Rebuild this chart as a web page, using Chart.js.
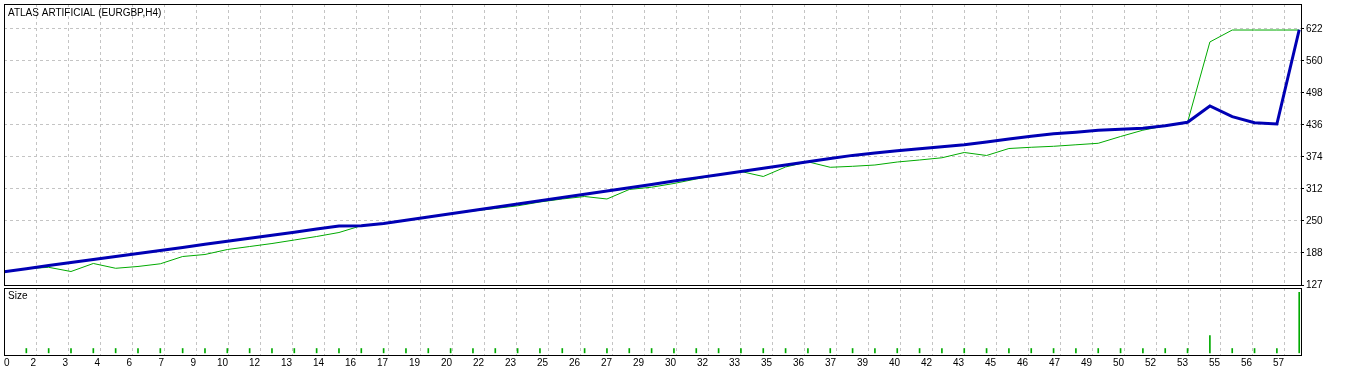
<!DOCTYPE html>
<html>
<head>
<meta charset="utf-8">
<script src="https://cdn.jsdelivr.net/npm/chart.js@4.4.1/dist/chart.umd.min.js"></script>
<style>
  html, body { margin: 0; padding: 0; background: #fff; }
  #wrap { position: relative; width: 1346px; height: 372px; overflow: hidden; }
  #mainBox { position: absolute; left: 0; top: 0; width: 1346px; height: 300px; }
  #sizeBox { position: absolute; left: 0; top: 287px; width: 1346px; height: 85px; }
</style>
</head>
<body>
<div id="wrap">
  <div id="mainBox"><canvas id="main"></canvas></div>
  <div id="sizeBox"><canvas id="size"></canvas></div>
</div>
<script>
// tester graph: balance (blue) + equity (green) per trade, lot size panel below
const TITLE = 'ATLAS ARTIFICIAL (EURGBP,H4)';

const trades = [0, 1, 2, 3, 4, 5, 6, 7, 8, 9, 10, 11, 12, 13, 14, 15, 16, 17, 18, 19,
  20, 21, 22, 23, 24, 25, 26, 27, 28, 29, 30, 31, 32, 33, 34, 35, 36, 37, 38, 39,
  40, 41, 42, 43, 44, 45, 46, 47, 48, 49, 50, 51, 52, 53, 54, 55, 56, 57, 58];

const balance = [152.7, 158.5, 164.5, 170.3, 176.3, 182.1, 188.1, 193.9, 199.7, 205.7,
  211.5, 217.3, 223.3, 229.1, 235.1, 241.1, 241.7, 246.1, 252.3, 258.5,
  264.9, 271.1, 277.2, 283.6, 289.8, 296.2, 302.4, 308.6, 314.9, 321.1,
  327.9, 334.1, 340.3, 346.5, 352.8, 359.0, 365.2, 371.4, 377.6, 382.4,
  386.5, 390.4, 394.2, 398.1, 403.7, 409.3, 414.7, 419.4, 422.5, 426.1,
  428.1, 430.0, 434.8, 441.6, 473.1, 452.4, 440.8, 438.3, 620.5];

const equity = [152.7, 158.5, 161.2, 153.1, 168.6, 159.3, 162.8, 168.0, 182.1, 186.0,
  195.6, 201.4, 207.2, 214.0, 220.8, 228.5, 241.7, 246.1, 252.3, 258.5,
  264.9, 270.1, 274.9, 280.1, 287.5, 293.3, 298.1, 293.3, 311.7, 316.1,
  323.3, 332.0, 339.7, 346.5, 336.8, 355.2, 365.2, 354.6, 356.5, 359.0,
  364.8, 368.7, 373.0, 383.2, 377.4, 390.9, 393.3, 395.2, 398.1, 401.0,
  414.1, 426.3, 434.8, 441.6, 596.9, 620.0, 620.0, 620.0, 620.0];

const sizeTrades = [1, 2, 3, 4, 5, 6, 7, 8, 9, 10, 11, 12, 13, 14, 15, 16, 17, 18, 19, 20,
  21, 22, 23, 24, 25, 26, 27, 28, 29, 30, 31, 32, 33, 34, 35, 36, 37, 38, 39, 40,
  41, 42, 43, 44, 45, 46, 47, 48, 49, 50, 51, 52, 53, 54, 55, 56, 57, 58];

const lots = [0.01, 0.01, 0.01, 0.01, 0.01, 0.01, 0.01, 0.01, 0.01, 0.01,
  0.01, 0.01, 0.01, 0.01, 0.01, 0.01, 0.01, 0.01, 0.01, 0.01,
  0.01, 0.01, 0.01, 0.01, 0.01, 0.01, 0.01, 0.01, 0.01, 0.01,
  0.01, 0.01, 0.01, 0.01, 0.01, 0.01, 0.01, 0.01, 0.01, 0.01,
  0.01, 0.01, 0.01, 0.01, 0.01, 0.01, 0.01, 0.01, 0.01, 0.01,
  0.01, 0.01, 0.01, 0.04, 0.01, 0.01, 0.01, 0.14];

const yTickLabels = ['127', '188', '250', '312', '374', '436', '498', '560', '622'];
const xTickLabels = ['0', '2', '3', '4', '6', '7', '9', '10', '12', '13', '14', '16', '17',
  '19', '20', '22', '23', '25', '26', '27', '29', '30', '32', '33', '35', '36', '37',
  '39', '40', '42', '43', '45', '46', '47', '49', '50', '52', '53', '55', '56', '57'];

const Y_MIN = 127, Y_TOP_TICK = 622, Y_MAX = 670.3;
const X_MAX = 58.08;     // trades across the plot width
const X_STEP = 1.433;    // trades per grid cell
const LOT_MIN = -0.005, LOT_MAX = 0.15;

const BLUE = '#0000b4';
const GREEN = '#00aa00';
const GRID = '#c4c4c4';
const INK = '#000';

Chart.defaults.font.family = '"Liberation Sans", Arial, sans-serif';
Chart.defaults.font.size = 10;
Chart.defaults.color = INK;

function xTicks(scale) {
  // first label sits a little right of the left edge so it stays readable
  scale.ticks = xTickLabels.map((_, i) => ({ value: i === 0 ? 0.25 : i * X_STEP }));
}
const hideFirst = (ctx) => (ctx.index === 0 ? 'rgba(0,0,0,0)' : GRID);

const frame = {
  id: 'frame',
  afterDraw(chart, args, opts) {
    const { ctx, chartArea: a } = chart;
    ctx.save();
    ctx.strokeStyle = INK;
    ctx.lineWidth = 1;
    ctx.strokeRect(Math.round(a.left) + 0.5, Math.round(a.top) + 0.5,
      Math.round(a.right - a.left), Math.round(a.bottom - a.top));
    if (opts.text) {
      ctx.fillStyle = INK;
      ctx.font = '10px "Liberation Sans", Arial, sans-serif';
      ctx.textBaseline = 'middle';
      ctx.fillText(opts.text, a.left + 4, a.top + opts.dy);
    }
    ctx.restore();
  },
};

new Chart(document.getElementById('main'), {
  type: 'line',
  data: {
    labels: trades,
    datasets: [
      { label: 'Balance', data: balance, borderColor: BLUE, borderWidth: 3,
        pointRadius: 0, tension: 0, fill: false },
      { label: 'Equity', data: equity, borderColor: GREEN, borderWidth: 1,
        pointRadius: 0, tension: 0, fill: false },
    ],
  },
  options: {
    responsive: true,
    maintainAspectRatio: false,
    animation: false,
    layout: { padding: { left: 4, top: 4, right: 0, bottom: 15 } },
    plugins: {
      legend: { display: false },
      tooltip: { enabled: false },
      frame: { text: TITLE, dy: 9.5 },
    },
    scales: {
      x: {
        type: 'linear', min: 0, max: X_MAX, offset: false,
        afterBuildTicks: xTicks,
        afterFit: (s) => { s.height = 0; s.paddingLeft = 0; s.paddingRight = 0; },
        ticks: { display: false },
        grid: { color: hideFirst, drawTicks: false },
        border: { display: false, dash: [3, 3] },
      },
      y: {
        position: 'right', min: Y_MIN, max: Y_MAX,
        afterBuildTicks: (s) => {
          s.ticks = yTickLabels.map((_, i) => ({ value: Y_MIN + i * (Y_TOP_TICK - Y_MIN) / 8 }));
        },
        afterFit: (s) => { s.width = 45; s.paddingTop = 0; s.paddingBottom = 0; },
        ticks: { autoSkip: false, padding: 2, callback: (v, i) => yTickLabels[i] },
        grid: { color: hideFirst, tickColor: INK, tickLength: 3 },
        border: { display: false, dash: [3, 3] },
      },
    },
  },
  plugins: [frame],
});

new Chart(document.getElementById('size'), {
  type: 'bar',
  data: {
    datasets: [{
      label: 'Size',
      data: sizeTrades.map((t, i) => ({ x: t, y: lots[i] })),
      backgroundColor: GREEN,
      barThickness: 1,
    }],
  },
  options: {
    responsive: true,
    maintainAspectRatio: false,
    animation: false,
    layout: { padding: { left: 4, top: 1, right: 45, bottom: 0 } },
    plugins: {
      legend: { display: false },
      tooltip: { enabled: false },
      frame: { text: 'Size', dy: 8 },
    },
    scales: {
      x: {
        type: 'linear', min: 0, max: X_MAX, offset: false,
        afterBuildTicks: xTicks,
        afterFit: (s) => { s.height = 17; s.paddingLeft = 0; s.paddingRight = 0; },
        ticks: { autoSkip: false, maxRotation: 0, align: 'end', padding: 2,
          callback: (v, i) => xTickLabels[i] },
        grid: { color: hideFirst, drawTicks: false, offset: false },
        border: { display: false, dash: [3, 3] },
      },
      y: { display: false, min: LOT_MIN, max: LOT_MAX },
    },
  },
  plugins: [frame],
});
</script>
</body>
</html>
